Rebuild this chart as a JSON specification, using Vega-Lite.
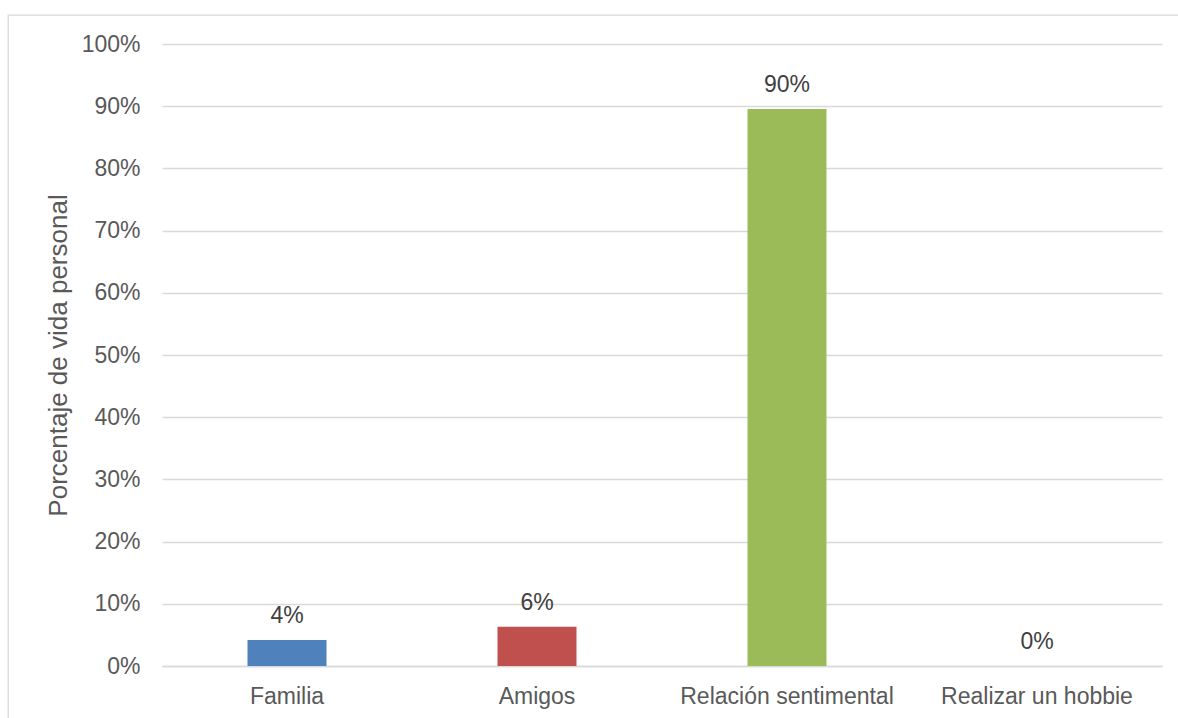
{
  "$schema": "https://vega.github.io/schema/vega-lite/v6.json",
  "autosize": {"type": "none"},
  "width": 1173,
  "height": 706,
  "padding": {"left": 8, "top": 15, "right": -3, "bottom": -3},
  "background": "white",
  "config": {
    "font": "Liberation Sans",
    "view": {"stroke": "#d9d9d9", "strokeWidth": 1.3}
  },
  "data": {
    "values": [
      {"categoria": "Familia", "valor": 0.042},
      {"categoria": "Amigos", "valor": 0.063},
      {"categoria": "Relación sentimental", "valor": 0.8955},
      {"categoria": "Realizar un hobbie", "valor": 0}
    ]
  },
  "encoding": {
    "x": {
      "field": "categoria",
      "type": "nominal",
      "sort": null,
      "scale": {"range": [154, 1154], "paddingInner": 0.684, "paddingOuter": 0.342},
      "axis": {
        "title": null,
        "orient": "bottom",
        "offset": -55,
        "labelAngle": 0,
        "labelLimit": 0,
        "ticks": false,
        "tickSize": 0,
        "labelPadding": 37,
        "labelBaseline": "alphabetic",
        "labelFontSize": 23,
        "labelColor": "#595959",
        "domainColor": "#d9d9d9",
        "domainWidth": 1.5,
        "grid": false
      }
    },
    "y": {
      "field": "valor",
      "type": "quantitative",
      "scale": {"domain": [0, 1], "range": [651, 29], "nice": false},
      "axis": {
        "title": "Porcentaje de vida personal",
        "orient": "left",
        "offset": -154,
        "values": [0, 0.1, 0.2, 0.3, 0.4, 0.5, 0.6, 0.7, 0.8, 0.9, 1],
        "format": ".0%",
        "domain": false,
        "ticks": false,
        "tickSize": 0,
        "labelPadding": 22,
        "labelFontSize": 23,
        "labelColor": "#595959",
        "grid": true,
        "gridColor": "#d9d9d9",
        "gridWidth": 1.5,
        "titleFontSize": 26,
        "titleFontWeight": "normal",
        "titleColor": "#595959",
        "titlePadding": 10
      }
    }
  },
  "layer": [
    {
      "mark": {"type": "bar"},
      "encoding": {
        "color": {
          "field": "categoria",
          "type": "nominal",
          "sort": null,
          "scale": {
            "domain": ["Familia", "Amigos", "Relación sentimental", "Realizar un hobbie"],
            "range": ["#4f81bd", "#c0504d", "#9bbb59", "#8064a2"]
          },
          "legend": null
        }
      }
    },
    {
      "mark": {"type": "text", "baseline": "alphabetic", "dy": -17, "fontSize": 23, "color": "#404040"},
      "encoding": {
        "text": {"field": "valor", "type": "quantitative", "format": ".0%"}
      }
    }
  ]
}
